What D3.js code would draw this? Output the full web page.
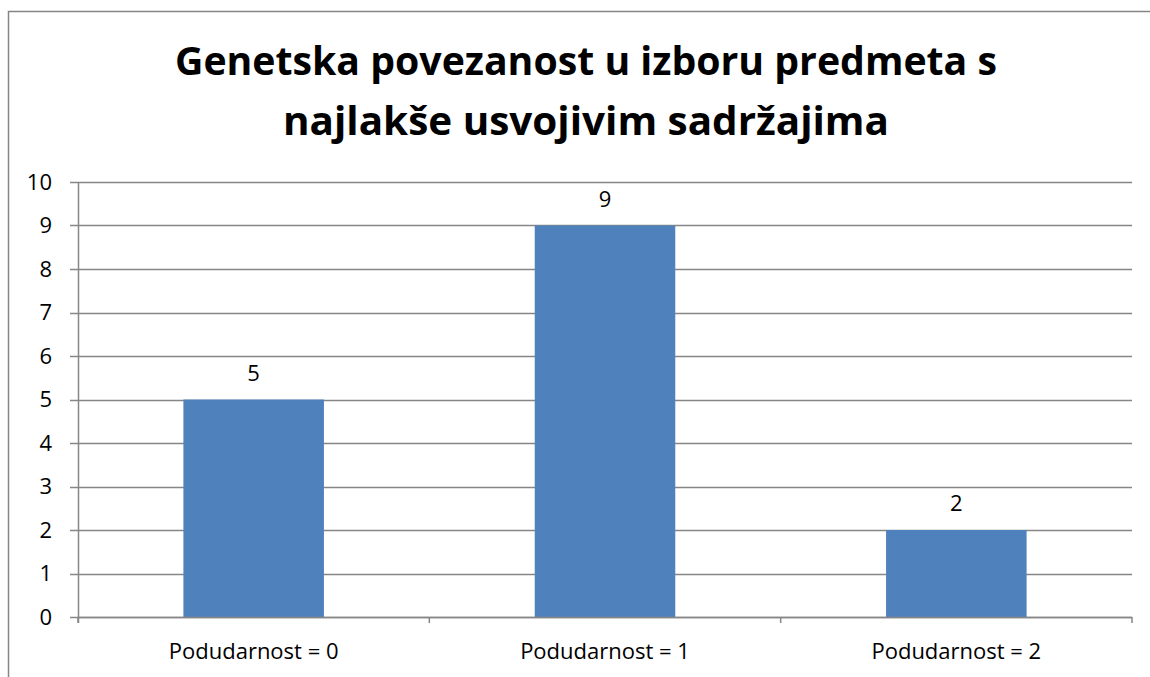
<!DOCTYPE html>
<html>
<head>
<meta charset="utf-8">
<script src="https://cdn.jsdelivr.net/npm/d3@7"></script>
<style>
  body { margin: 0; background: #fff; }
  text { font-family: "Open Sans", "Noto Sans", sans-serif; fill: #000; }
</style>
</head>
<body>
<svg id="chart" width="1150" height="677"></svg>
<script>
// chart data
var categories = ["Podudarnost = 0", "Podudarnost = 1", "Podudarnost = 2"];
var values = [5, 9, 2];
var yTicks = [0, 1, 2, 3, 4, 5, 6, 7, 8, 9, 10];
var titleLines = ["Genetska povezanost u izboru predmeta s", "najlakše usvojivim sadržajima"];

var margin = {top: 182, right: 18, bottom: 60, left: 78},
  width = 1150 - margin.left - margin.right,
  height = 677 - margin.top - margin.bottom;

var svg = d3.select("#chart");

// outer chart frame (runs off the right/bottom edge)
svg.append("rect")
  .attr("x", 8.5).attr("y", 11.5)
  .attr("width", 1160).attr("height", 700)
  .attr("fill", "none")
  .attr("stroke", "#868686")
  .attr("stroke-width", 1.5);

// title
var title = svg.append("g");
title.selectAll("text")
  .data(titleLines)
  .enter()
  .append("text")
  .attr("x", 586)
  .attr("y", function (d, i) { return 75 + i * 60; })
  .attr("text-anchor", "middle")
  .style("font-size", "39px")
  .style("font-weight", "bold")
  .attr("textLength", function (d, i) { return i === 0 ? 822 : 606; })
  .attr("lengthAdjust", "spacingAndGlyphs")
  .text(function (d) { return d; });

var g = svg.append("g")
  .attr("transform", "translate(" + margin.left + "," + margin.top + ")");

var x = d3.scaleBand()
  .domain(categories)
  .range([0, width])
  .paddingInner(0.6)
  .paddingOuter(0.3);

var y = d3.scaleLinear()
  .domain([0, 10])
  .range([height, 0]);

// gridlines
g.append("g")
  .selectAll("line")
  .data(yTicks)
  .enter()
  .append("line")
  .attr("x1", -8)
  .attr("x2", width)
  .attr("y1", function (d) { return Math.round(y(d)) + 0.5; })
  .attr("y2", function (d) { return Math.round(y(d)) + 0.5; })
  .attr("stroke", "#868686")
  .attr("stroke-width", 1.5);

// y axis line
g.append("line")
  .attr("x1", 0.5).attr("x2", 0.5)
  .attr("y1", 0).attr("y2", height + 6)
  .attr("stroke", "#868686")
  .attr("stroke-width", 1.5);

// y tick labels
g.append("g")
  .selectAll("text")
  .data(yTicks)
  .enter()
  .append("text")
  .attr("x", -26)
  .attr("y", function (d) { return y(d); })
  .attr("dy", "0.36em")
  .attr("text-anchor", "end")
  .style("font-size", "22px")
  .text(function (d) { return d; });

// bars
g.append("g")
  .selectAll("rect")
  .data(values)
  .enter()
  .append("rect")
  .attr("x", function (d, i) { return x(categories[i]); })
  .attr("y", function (d) { return y(d); })
  .attr("width", x.bandwidth())
  .attr("height", function (d) { return height - y(d); })
  .attr("fill", "#4F81BD");

// x axis line and category boundary ticks
var bounds = d3.range(categories.length + 1).map(function (i) { return i * width / categories.length; });
g.append("line")
  .attr("x1", 0).attr("x2", width)
  .attr("y1", height + 0.5).attr("y2", height + 0.5)
  .attr("stroke", "#868686")
  .attr("stroke-width", 1.5);
g.append("g")
  .selectAll("line")
  .data(bounds)
  .enter()
  .append("line")
  .attr("x1", function (d) { return d; })
  .attr("x2", function (d) { return d; })
  .attr("y1", height)
  .attr("y2", height + 6)
  .attr("stroke", "#868686")
  .attr("stroke-width", 1.5);

// category labels
g.append("g")
  .selectAll("text")
  .data(categories)
  .enter()
  .append("text")
  .attr("x", function (d) { return x(d) + x.bandwidth() / 2; })
  .attr("y", height + 42)
  .attr("text-anchor", "middle")
  .style("font-size", "22px")
  .text(function (d) { return d; });

// data labels
g.append("g")
  .selectAll("text")
  .data(values)
  .enter()
  .append("text")
  .attr("x", function (d, i) { return x(categories[i]) + x.bandwidth() / 2; })
  .attr("y", function (d) { return y(d) - 19; })
  .attr("text-anchor", "middle")
  .style("font-size", "22px")
  .text(function (d) { return d; });
</script>
</body>
</html>
